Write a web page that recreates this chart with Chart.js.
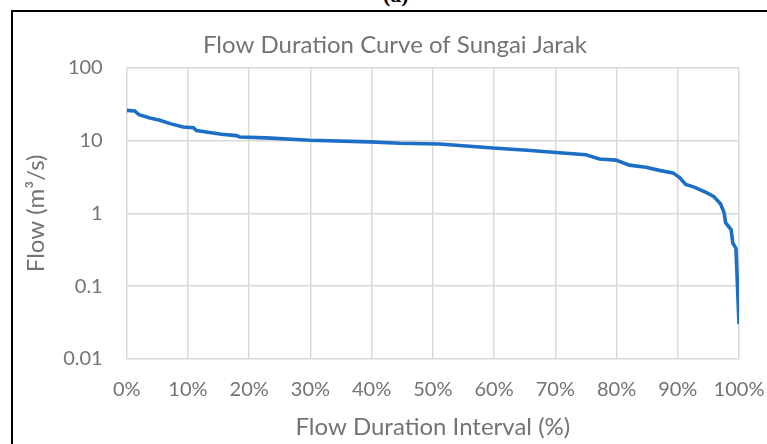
<!DOCTYPE html>
<html>
<head>
<meta charset="utf-8">
<script src="https://cdn.jsdelivr.net/npm/chart.js@4"></script>
<style>
  html, body { margin: 0; padding: 0; width: 767px; height: 444px; overflow: hidden; background: #fff; }
  #frame { position: absolute; left: 11px; top: 10px; width: 800px; height: 500px; border: 2px solid #000; }
  #tag { position: absolute; left: 383px; top: -16px; font: bold 22px "Liberation Serif", serif; line-height: 22px; color: #000; }
  #myChart { position: absolute; left: 0; top: 0; }
</style>
</head>
<body>
<div id="tag">(a)</div>
<div id="frame"></div>
<canvas id="myChart" width="790" height="444"></canvas>
<script>
  // flow duration curve
  const durationPct = [0, 1.3, 2, 3.8, 5.4, 7.1, 9.2, 10.9, 11.4, 14.1, 15.5, 17.9, 18.5, 22.8, 29.9, 39.7, 44.6, 51.1, 59.8, 66, 68, 75, 77.2, 79.9, 82.1, 84.8, 87, 89.2, 90.3, 91.3, 92.7, 94.6, 95.9, 97, 97.6, 97.8, 98.7, 99, 99.5, 100];
  const flowValues = [26, 25.5, 22.7, 20.5, 19, 17.1, 15.4, 15, 13.7, 12.7, 12.2, 11.7, 11.2, 10.9, 10.1, 9.6, 9.2, 9.0, 7.9, 7.3, 7.1, 6.4, 5.6, 5.4, 4.6, 4.3, 3.9, 3.6, 3.1, 2.5, 2.3, 1.95, 1.7, 1.35, 1.0, 0.75, 0.6, 0.39, 0.33, 0.03];
  const flowTicks = [0.01, 0.1, 1, 10, 100];

  const textGrey = '#737373';
  const gridGrey = '#d9d9d9';

  const points = durationPct.map((p, i) => ({ x: p, y: flowValues[i] }));

  const config = {
    type: 'line',
    data: {
      datasets: [{
        label: 'Flow',
        data: points,
        borderColor: '#1d6fc6',
        borderWidth: 3.6,
        pointRadius: 0,
        tension: 0
      }]
    },
    options: {
      responsive: false,
      animation: false,
      // left padding keeps the chart title centred where Excel put it
      layout: { padding: { left: 51, right: 51, top: 0, bottom: 0 } },
      plugins: {
        legend: { display: false },
        tooltip: { enabled: false },
        title: {
          display: true,
          text: 'Flow Duration Curve of Sungai Jarak',
          color: textGrey,
          font: { family: 'Lato', size: 24, weight: 'normal' },
          padding: { top: 31, bottom: 8 }
        }
      },
      scales: {
        x: {
          type: 'linear',
          min: 0,
          max: 100,
          grid: { color: gridGrey, lineWidth: 1.5, drawTicks: false },
          border: { display: false },
          ticks: {
            stepSize: 10,
            color: textGrey,
            padding: 19,
            font: { family: 'Lato', size: 20 },
            callback: v => v + '%'
          },
          title: {
            display: true,
            text: 'Flow Duration Interval (%)',
            color: textGrey,
            font: { family: 'Lato', size: 24 },
            padding: { top: 0, bottom: 2 }
          },
          afterFit: s => { s.height = 85; }
        },
        y: {
          type: 'logarithmic',
          min: 0.01,
          max: 100,
          grid: { color: gridGrey, lineWidth: 1.5, drawTicks: false },
          border: { display: false },
          afterBuildTicks: s => { s.ticks = flowTicks.map(v => ({ value: v })); },
          ticks: {
            color: textGrey,
            padding: 24,
            font: { family: 'Lato', size: 20 },
            callback: v => String(v)
          },
          title: {
            display: true,
            text: 'Flow (m³/s)',
            color: textGrey,
            font: { family: 'Lato', size: 24 },
            padding: { top: -29.4, bottom: 0 }
          },
          afterFit: s => { s.width = 75.7; }
        }
      }
    }
  };

  const myChart = new Chart(document.getElementById('myChart'), config);
</script>
</body>
</html>
